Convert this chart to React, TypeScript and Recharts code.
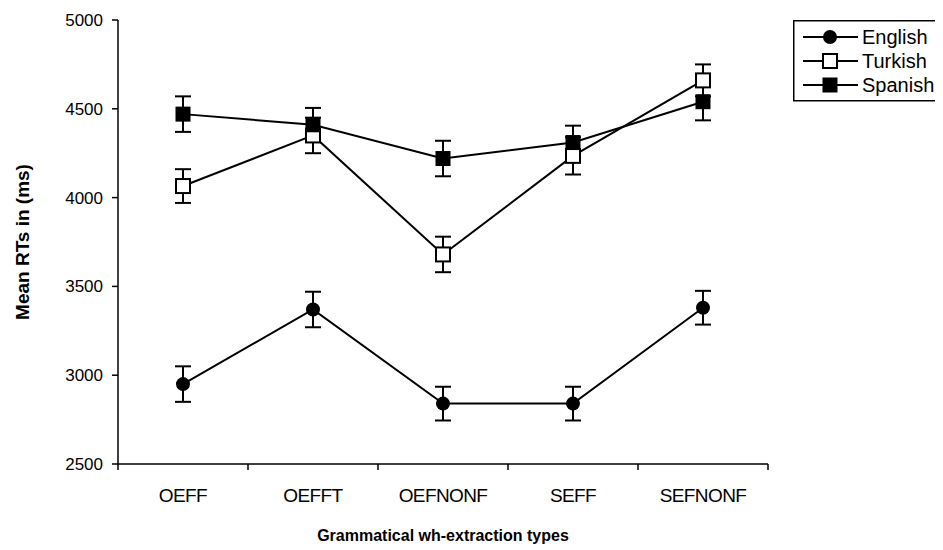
import React from 'react';
import { LineChart, Line, XAxis, YAxis, ErrorBar, Label } from 'recharts';

const categories = ['OEFF', 'OEFFT', 'OEFNONF', 'SEFF', 'SEFNONF'];
const englishMeans = [2950, 3370, 2840, 2840, 3380];
const englishErrors = [100, 100, 95, 95, 95];
const turkishMeans = [4065, 4350, 3680, 4235, 4660];
const turkishErrors = [95, 100, 100, 105, 90];
const spanishMeans = [4470, 4410, 4220, 4310, 4540];
const spanishErrors = [100, 95, 100, 95, 105];
const yTicks = [2500, 3000, 3500, 4000, 4500, 5000];

const data = categories.map((type, i) => ({
  type,
  english: englishMeans[i],
  englishErr: englishErrors[i],
  turkish: turkishMeans[i],
  turkishErr: turkishErrors[i],
  spanish: spanishMeans[i],
  spanishErr: spanishErrors[i],
}));

const W = 935;
const H = 542;
const margin = { top: 12, right: 175, bottom: 0, left: 0 };
const yAxisWidth = 110;
const halfBand = (W - margin.left - margin.right - yAxisWidth) / categories.length / 2;
const font = '"Liberation Sans", Arial, sans-serif';

const Circle = (p: any) => <circle key={p.index} cx={p.cx} cy={p.cy} r={7} fill="#000" />;
const OpenSquare = (p: any) => (
  <rect key={p.index} x={p.cx - 7} y={p.cy - 7} width={14} height={14} fill="#fff" stroke="#000" strokeWidth={2} />
);
const FilledSquare = (p: any) => (
  <rect key={p.index} x={p.cx - 7.5} y={p.cy - 7.5} width={15} height={15} fill="#000" />
);

const XTick = (p: any) => {
  const { x, y, payload, index } = p;
  const last = index === categories.length - 1;
  return (
    <g>
      <line x1={x - halfBand} y1={y} x2={x - halfBand} y2={y + 6} stroke="#000" strokeWidth={1.5} />
      {last && <line x1={x + halfBand} y1={y} x2={x + halfBand} y2={y + 6} stroke="#000" strokeWidth={1.5} />}
      <text x={x} y={y + 38} textAnchor="middle" fontSize={19} fill="#000" letterSpacing={-0.6} fontFamily={font}>
        {payload.value}
      </text>
    </g>
  );
};

const legendItems = [
  { name: 'English', Marker: Circle },
  { name: 'Turkish', Marker: OpenSquare },
  { name: 'Spanish', Marker: FilledSquare },
];

const LegendBox = () => (
  <svg width={150} height={82} style={{ position: 'absolute', left: 785, top: 12, display: 'block' }}>
    <rect x={0.75} y={0.75} width={170} height={80} fill="#fff" stroke="#000" strokeWidth={1.5} />
    {legendItems.map((it, i) => {
      const cy = 17 + i * 24;
      return (
        <g key={it.name}>
          <line x1={10} y1={cy} x2={65} y2={cy} stroke="#000" strokeWidth={2} />
          <it.Marker cx={37} cy={cy} index={i} />
          <text x={69} y={cy + 7} fontSize={20} fill="#000" fontFamily={font}>
            {it.name}
          </text>
        </g>
      );
    })}
  </svg>
);

export default function App() {
  return (
    <div style={{ position: 'relative', width: W, height: H, overflow: 'hidden', fontFamily: font }}>
      <LineChart width={W} height={H} data={data} margin={margin}>
        <XAxis
          dataKey="type"
          scale="band"
          height={86}
          tickLine={false}
          tickSize={0}
          tickMargin={0}
          interval={0}
          axisLine={{ stroke: '#000', strokeWidth: 1.5 }}
          tick={<XTick />}
        >
          <Label
            value="Grammatical wh-extraction types"
            position="insideBottom"
            offset={9}
            style={{ fontSize: 16, fontWeight: 'bold', fill: '#000', fontFamily: font }}
          />
        </XAxis>
        <XAxis xAxisId="top" dataKey="type" orientation="top" height={0} tick={false} tickLine={false} axisLine={{ stroke: '#808080', strokeWidth: 1.5 }} />
        <YAxis
          domain={[2500, 5000]}
          ticks={yTicks}
          width={yAxisWidth}
          tickSize={6}
          tickMargin={9}
          interval={0}
          axisLine={{ stroke: '#000', strokeWidth: 1.5 }}
          tickLine={{ stroke: '#000', strokeWidth: 1.5 }}
          tick={{ fontSize: 17, fill: '#000', fontFamily: font }}
        >
          <Label
            content={({ viewBox }: any) => {
              const cx = viewBox.x + 14;
              const cy = viewBox.y + viewBox.height / 2;
              return (
                <text
                  x={cx}
                  y={cy}
                  transform={`rotate(-90 ${cx} ${cy})`}
                  textAnchor="middle"
                  dominantBaseline="central"
                  fontSize={19}
                  fontWeight="bold"
                  fill="#000"
                  fontFamily={font}
                >
                  Mean RTs in (ms)
                </text>
              );
            }}
          />
        </YAxis>
        <YAxis yAxisId="right" orientation="right" width={0} domain={[2500, 5000]} tick={false} tickLine={false} axisLine={{ stroke: '#808080', strokeWidth: 1.5 }} />
        <Line
          name="English"
          dataKey="english"
          stroke="#000"
          strokeWidth={2}
          dot={Circle}
          activeDot={false}
          isAnimationActive={false}
        >
          <ErrorBar dataKey="englishErr" direction="y" width={8} stroke="#000" strokeWidth={2} />
        </Line>
        <Line
          name="Turkish"
          dataKey="turkish"
          stroke="#000"
          strokeWidth={2}
          dot={OpenSquare}
          activeDot={false}
          isAnimationActive={false}
        >
          <ErrorBar dataKey="turkishErr" direction="y" width={8} stroke="#000" strokeWidth={2} />
        </Line>
        <Line
          name="Spanish"
          dataKey="spanish"
          stroke="#000"
          strokeWidth={2}
          dot={FilledSquare}
          activeDot={false}
          isAnimationActive={false}
        >
          <ErrorBar dataKey="spanishErr" direction="y" width={8} stroke="#000" strokeWidth={2} />
        </Line>
      </LineChart>
      <LegendBox />
    </div>
  );
}
